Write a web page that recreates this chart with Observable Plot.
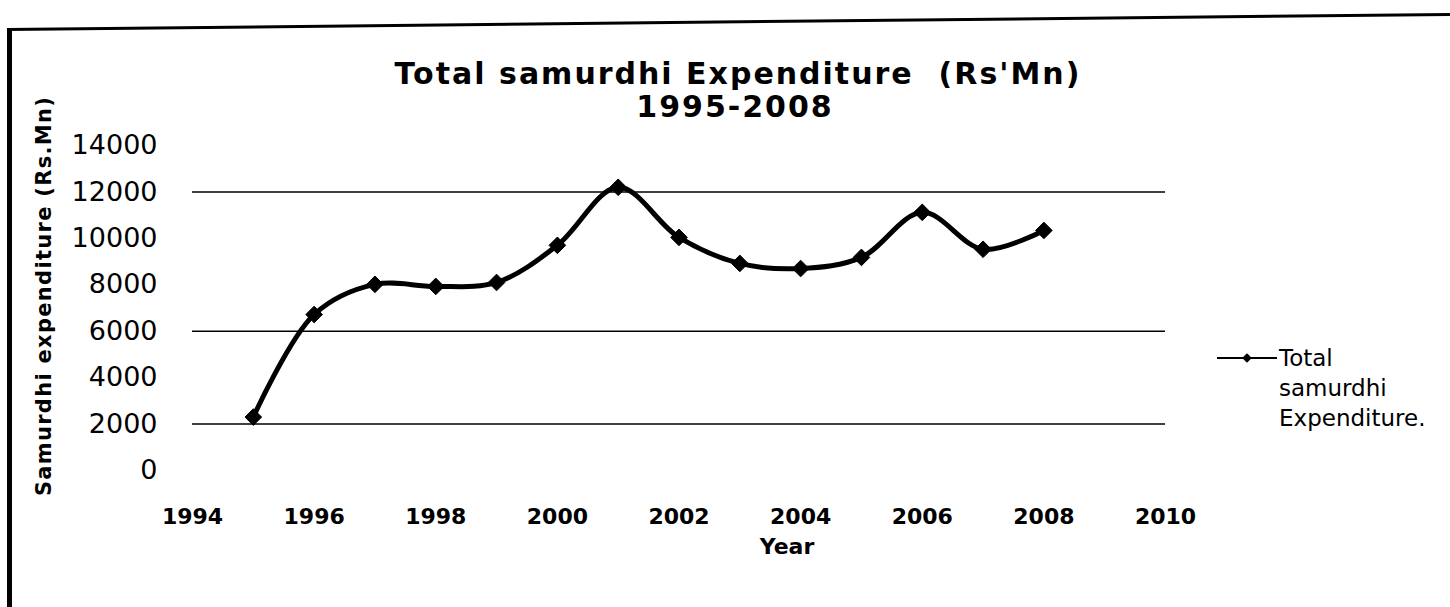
<!DOCTYPE html>
<html>
<head>
<meta charset="utf-8">
<script src="https://cdn.jsdelivr.net/npm/d3@7"></script>
<script src="https://cdn.jsdelivr.net/npm/@observablehq/plot@0.6"></script>
<style>
  html, body { margin: 0; padding: 0; background: #fff; }
  #wrap { position: relative; width: 1450px; height: 607px; overflow: hidden; font-family: "DejaVu Sans", Verdana, sans-serif; color: #000; }
  #chart { position: absolute; left: 0; top: 0; }
  .t { position: absolute; white-space: pre; line-height: 1; }
  #title1 { left: 738px; top: 74px; transform: translate(-50%, -50%); font-size: 30px; font-weight: bold; letter-spacing: 2px; }
  #title2 { left: 735px; top: 107px; transform: translate(-50%, -50%); font-size: 30px; font-weight: bold; letter-spacing: 2px; }
  #ylabel { left: 44px; top: 296px; transform: translate(-50%, -50%) rotate(-90deg); font-size: 21px; font-weight: bold; letter-spacing: 1.3px; }
  #xlabel { left: 787px; top: 547px; transform: translate(-50%, -50%); font-size: 22px; font-weight: bold; }
  #legend { position: absolute; left: 1217px; top: 344px; }
  #legend .row { position: absolute; left: 62px; font-size: 23px; white-space: pre; line-height: 1; }
  #bleft { position: absolute; left: 7px; top: 28px; width: 5px; height: 600px; background: #000; }
  #btop { position: absolute; left: 7px; top: 28px; width: 1460px; height: 3px; background: #000; transform-origin: 0 0; transform: rotate(-0.6deg); }
</style>
</head>
<body>
<div id="wrap">
  <div id="chart"></div>
  <div id="bleft"></div>
  <div id="btop"></div>
  <div class="t" id="title1">Total samurdhi Expenditure  (Rs'Mn)</div>
  <div class="t" id="title2">1995-2008</div>
  <div class="t" id="ylabel">Samurdhi expenditure (Rs.Mn)</div>
  <div class="t" id="xlabel">Year</div>
  <div id="legend"></div>
</div>
<script>
// Data
const years = [1995, 1996, 1997, 1998, 1999, 2000, 2001, 2002, 2003, 2004, 2005, 2006, 2007, 2008];
const expenditure = [2300, 6720, 8020, 7930, 8100, 9700, 12200, 10040, 8920, 8700, 9180, 11120, 9530, 10340];
const yTicks = [0, 2000, 4000, 6000, 8000, 10000, 12000, 14000];
const xTicks = [1994, 1996, 1998, 2000, 2002, 2004, 2006, 2008, 2010];
const gridValues = [2000, 6000, 12000];
const seriesName = ["Total", "samurdhi", "Expenditure."];

const data = years.map((y, i) => ({year: y, value: expenditure[i]}));

const chart = Plot.plot({
  width: 1450,
  height: 607,
  marginTop: 145,
  marginBottom: 137,
  marginLeft: 192,
  marginRight: 285,
  style: {fontFamily: "DejaVu Sans, Verdana, sans-serif", background: "transparent", color: "#000"},
  x: {domain: [1994, 2010]},
  y: {domain: [0, 14000]},
  marks: [
    Plot.ruleY(gridValues, {stroke: "#000", strokeWidth: 1.5}),
    Plot.axisY({ticks: yTicks, tickSize: 0, tickPadding: 35, fontSize: 27, label: null, tickFormat: d => String(d)}),
    Plot.axisX({ticks: xTicks, tickSize: 0, tickPadding: 38, fontSize: 22, fontWeight: "bold", label: null, tickFormat: d => String(d)}),
    Plot.line(data, {x: "year", y: "value", stroke: "#000", strokeWidth: 5, curve: "catmull-rom"}),
    Plot.dot(data, {x: "year", y: "value", symbol: "diamond2", r: 7.5, fill: "#000", stroke: "#000", strokeWidth: 1})
  ]
});
document.getElementById("chart").appendChild(chart);

// Legend
const legend = document.getElementById("legend");
const lsvg = d3.select(legend).append("svg").attr("width", 62).attr("height", 28)
  .style("position", "absolute").style("left", "0px").style("top", "0px");
lsvg.append("line").attr("x1", 0).attr("x2", 60).attr("y1", 14).attr("y2", 14).attr("stroke", "#000").attr("stroke-width", 2);
lsvg.append("path").attr("d", d3.symbol(d3.symbolDiamond2, 60)()).attr("transform", "translate(30,14)").attr("fill", "#000");
seriesName.forEach((s, i) => {
  const d = document.createElement("div");
  d.className = "row";
  d.textContent = s;
  d.style.top = (3 + i * 30) + "px";
  legend.appendChild(d);
});
</script>
</body>
</html>
